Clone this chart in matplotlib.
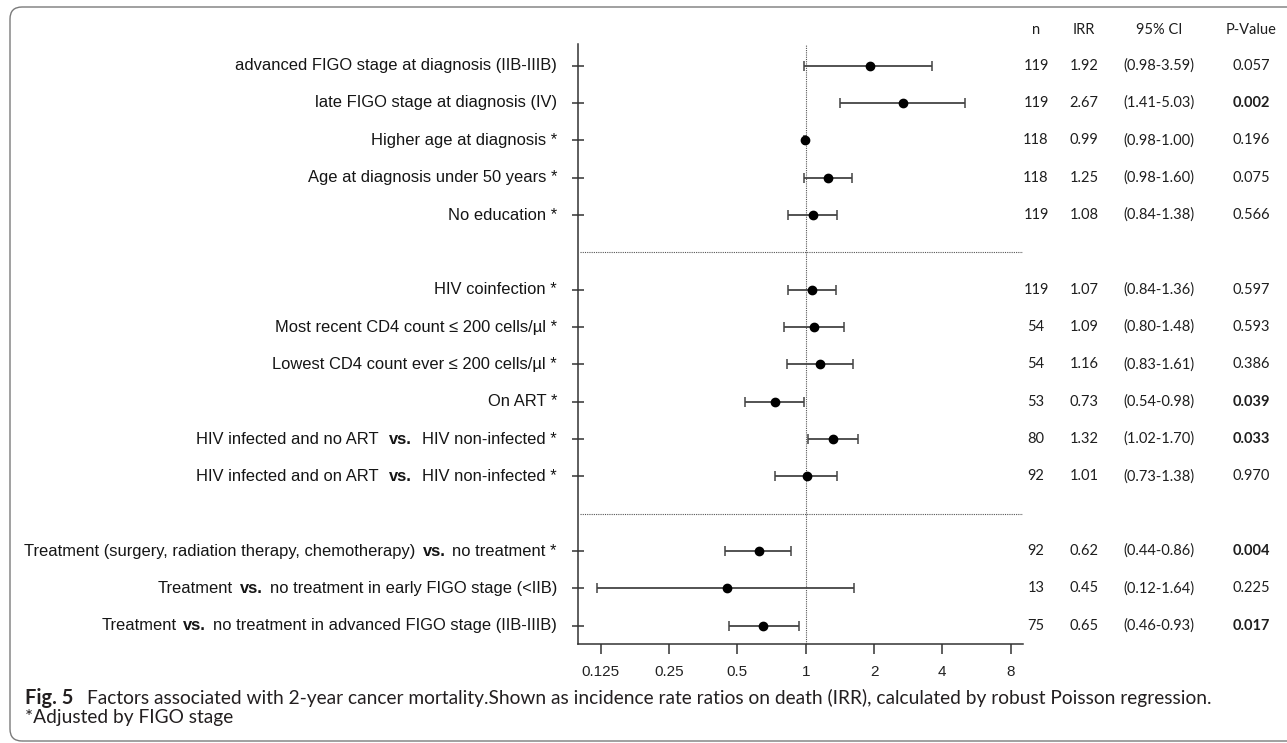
import re
import matplotlib
matplotlib.use('Agg')
import matplotlib.pyplot as plt
import matplotlib.transforms as mtransforms
from matplotlib.patches import FancyBboxPatch

# ---------------- data ----------------
labels = [
    "advanced FIGO stage at diagnosis (IIB-IIIB)",
    "late FIGO stage at diagnosis (IV)",
    "Higher age at diagnosis *",
    "Age at diagnosis under 50 years *",
    "No education *",
    "HIV coinfection *",
    "Most recent CD4 count \u2264 200 cells/\u00b5l *",
    "Lowest CD4 count ever \u2264 200 cells/\u00b5l *",
    "On ART *",
    "HIV infected and no ART   vs.   HIV non-infected *",
    "HIV infected and on ART   vs.   HIV non-infected *",
    "Treatment (surgery, radiation therapy, chemotherapy)  vs.  no treatment *",
    "Treatment  vs.  no treatment in early FIGO stage (<IIB)",
    "Treatment  vs.  no treatment in advanced FIGO stage (IIB-IIIB)",
]
n_vals = [119, 119, 118, 118, 119, 119, 54, 54, 53, 80, 92, 92, 13, 75]
irr = [1.92, 2.67, 0.99, 1.25, 1.08, 1.07, 1.09, 1.16, 0.73, 1.32, 1.01, 0.62, 0.45, 0.65]
ci_lo = [0.98, 1.41, 0.98, 0.98, 0.84, 0.84, 0.80, 0.83, 0.54, 1.02, 0.73, 0.44, 0.12, 0.46]
ci_hi = [3.59, 5.03, 1.00, 1.60, 1.38, 1.36, 1.48, 1.61, 0.98, 1.70, 1.38, 0.86, 1.64, 0.93]
p_vals = [0.057, 0.002, 0.196, 0.075, 0.566, 0.597, 0.593, 0.386, 0.039, 0.033, 0.970, 0.004, 0.225, 0.017]
x_ticks = [0.125, 0.25, 0.5, 1, 2, 4, 8]
x_tick_labels = ["0.125", "0.25", "0.5", "1", "2", "4", "8"]
table_headers = ["n", "IRR", "95% CI", "P-Value"]
caption_bold = "Fig. 5"
caption_line1 = ("Factors associated with 2-year cancer mortality.Shown as incidence rate ratios on death (IRR), "
                 "calculated by robust Poisson regression.")
caption_line2 = "*Adjusted by FIGO stage"

# ---------------- layout ----------------
y_pos = [0, 1, 2, 3, 4, 6, 7, 8, 9, 10, 11, 13, 14, 15]
separators = [5, 12]

W, H = 1287, 743
fig = plt.figure(figsize=(W / 100, H / 100), dpi=100)


def fx(px):
    return px / W


def fy(py):
    return 1 - py / H


ax = fig.add_axes([fx(578), fy(644), fx(1023) - fx(578), fy(44) - fy(644)])
ax.set_xscale('log', base=2)
ax.set_xlim(0.0994, 9.06)
ax.set_ylim(15.49, -0.58)

for s in ['top', 'right']:
    ax.spines[s].set_visible(False)
for s in ['left', 'bottom']:
    ax.spines[s].set_color('#333333')
    ax.spines[s].set_linewidth(1.1)

ax.set_xticks(x_ticks)
ax.set_xticklabels(x_tick_labels, fontsize=11, family='Liberation Sans', color='#222222')
ax.minorticks_off()
ax.tick_params(axis='x', direction='out', length=7, width=1.1, color='#333333', pad=8)
ax.set_yticks(y_pos)
ax.set_yticklabels([])
ax.tick_params(axis='y', direction='inout', length=8, width=1.1, color='#333333')

ax.axvline(1, color='#555555', lw=0.8, ls=(0, (1, 1)), zorder=1)
for s in separators:
    ax.axhline(s, xmin=0.005, xmax=1, color='#555555', lw=0.8, ls=(0, (1, 1)), zorder=1)

xerr = [[v - l for v, l in zip(irr, ci_lo)], [h - v for v, h in zip(irr, ci_hi)]]
ax.errorbar(irr, y_pos, xerr=xerr, fmt='o', color='black', ecolor='#444444',
            elinewidth=1.3, capsize=3.6, capthick=1.1, markersize=6, zorder=3)

# ---------------- row labels ----------------
renderer = fig.canvas.get_renderer()
base = mtransforms.blended_transform_factory(fig.transFigure, ax.transData)
label_right = fx(557)
fs_lab = 11.9
space_px = 0.21 * fs_lab * 100 / 72

for lab, y in zip(labels, y_pos):
    m = re.match(r'^(.*?)( +)vs\.( +)(.*)$', lab)
    if m is None:
        ax.text(label_right, y, lab, transform=base, ha='right', va='center',
                fontsize=fs_lab, family='Liberation Sans', color='#151515')
        continue
    left, sp1, sp2, right = m.group(1), m.group(2), m.group(3), m.group(4)
    segs = [(right, 'normal', 0), ('vs.', 'bold', len(sp2)), (left, 'normal', len(sp1))]
    off = 0.0
    for text, weight, nsp in segs:
        off += nsp * space_px
        tr = mtransforms.offset_copy(base, fig=fig, x=-off, y=0, units='dots')
        t = ax.text(label_right, y, text, transform=tr, ha='right', va='center',
                    fontsize=fs_lab, family='Liberation Sans', weight=weight, color='#151515')
        off += t.get_window_extent(renderer).width

# ---------------- table ----------------
col_x = [fx(1036), fx(1084), fx(1159), fx(1251)]
fs_tab = 10.5
header_y = -0.956
for cx, h in zip(col_x, table_headers):
    ax.text(cx, header_y, h, transform=base, ha='center', va='center',
            fontsize=fs_tab, family='Lato', color='#1e1e1e', clip_on=False)
for i, y in enumerate(y_pos):
    vals = [str(n_vals[i]), f"{irr[i]:.2f}", f"({ci_lo[i]:.2f}-{ci_hi[i]:.2f})", f"{p_vals[i]:.3f}"]
    for j, (cx, v) in enumerate(zip(col_x, vals)):
        w = 'bold' if (j == 3 and p_vals[i] < 0.05) else 'normal'
        ax.text(cx, y, v, transform=base, ha='center', va='center',
                fontsize=fs_tab, family='Lato', weight=w, color='#1e1e1e', clip_on=False)

# ---------------- caption ----------------
cap_color = '#231f20'
fs_cap = 12.5
t_probe = fig.text(0, 0, caption_line1, fontsize=fs_cap, family='Lato')
wprobe = t_probe.get_window_extent(renderer).width
t_probe.remove()
fs_cap = fs_cap * (1213 - 87) / wprobe
fig.text(fx(25), fy(698), caption_bold, fontsize=fs_cap * 1.05, family='Lato', weight='bold',
         color=cap_color, ha='left', va='center')
fig.text(fx(87), fy(698), caption_line1, fontsize=fs_cap, family='Lato',
         color=cap_color, ha='left', va='center')
fig.text(fx(25), fy(718), caption_line2, fontsize=fs_cap, family='Lato',
         color=cap_color, ha='left', va='center')

# ---------------- border ----------------
border = FancyBboxPatch((10, 2), 1300, 734, boxstyle='round,pad=0,rounding_size=12',
                        transform=mtransforms.IdentityTransform(), fill=False,
                        edgecolor='#7a7a7a', lw=1.0)
fig.add_artist(border)

fig.savefig('out.png', dpi=100)
